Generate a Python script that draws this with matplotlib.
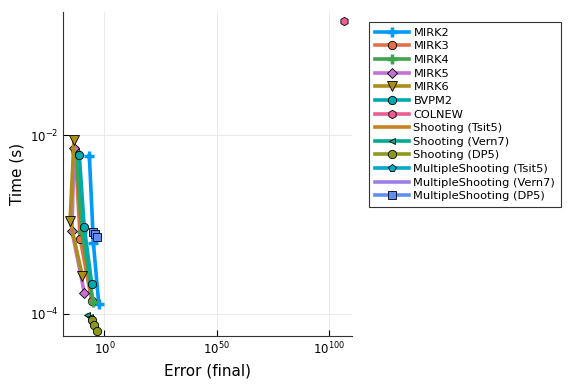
import numpy as np
import matplotlib
matplotlib.use("Agg")
import matplotlib.pyplot as plt
from matplotlib.ticker import FixedLocator, NullLocator

# ---- data (log10 of error, log10 of time) ----
names = ["MIRK2", "MIRK3", "MIRK4", "MIRK5", "MIRK6", "BVPM2", "COLNEW",
         "Shooting (Tsit5)", "Shooting (Vern7)", "Shooting (DP5)",
         "MultipleShooting (Tsit5)", "MultipleShooting (Vern7)", "MultipleShooting (DP5)"]

mirk2_err = [-6.7, -4.9, -2.5]
mirk2_time = [-2.235, -3.21, -3.895]
mirk3_err = [-13.0, -10.8, -5.6]
mirk3_time = [-2.17, -3.16, -3.86]
mirk4_err = [-12.7, -10.0, -5.0]
mirk4_time = [-2.19, -3.09, -3.87]
mirk5_err = [-13.5, -14.5, -8.9]
mirk5_time = [-2.14, -3.07, -3.77]
mirk6_err = [-13.6, -15.3, -9.8]
mirk6_time = [-2.06, -2.96, -3.58]
bvpm2_err = [-11.2, -9.0, -5.6]
bvpm2_time = [-2.22, -3.03, -3.67]
colnew_err = [107.0]
colnew_time = [-0.72]
sh_tsit5_err = [-5.5, -4.5, -3.5]
sh_tsit5_time = [-4.07, -4.13, -4.19]
sh_vern7_err = [-7.6, -6.6, -6.0]
sh_vern7_time = [-4.02, -4.04, -4.06]
sh_dp5_err = [-5.5, -4.5, -3.5]
sh_dp5_time = [-4.07, -4.13, -4.19]
ms_tsit5_err = [-5.0, -4.2, -3.4]
ms_tsit5_time = [-3.08, -3.11, -3.14]
ms_vern7_err = [-5.2, -4.4, -3.6]
ms_vern7_time = [-3.07, -3.10, -3.13]
ms_dp5_err = [-5.0, -4.2, -3.4]
ms_dp5_time = [-3.08, -3.11, -3.14]

errs = [mirk2_err, mirk3_err, mirk4_err, mirk5_err, mirk6_err, bvpm2_err, colnew_err,
        sh_tsit5_err, sh_vern7_err, sh_dp5_err, ms_tsit5_err, ms_vern7_err, ms_dp5_err]
times = [mirk2_time, mirk3_time, mirk4_time, mirk5_time, mirk6_time, bvpm2_time, colnew_time,
         sh_tsit5_time, sh_vern7_time, sh_dp5_time, ms_tsit5_time, ms_vern7_time, ms_dp5_time]

colors = ["#009AFA", "#E36F47", "#3EA44E", "#C371D2", "#AC8D18", "#00A9AD", "#ED5E93",
          "#C68225", "#00A98D", "#8E971E", "#00A8CB", "#9B7FE9", "#618DF6"]
markers = ["P", "o", "P", "D", "v", "o", "h", None, "<", "o", "p", None, "s"]
msizes = [6, 6, 6, 5, 7, 6, 6, 0, 5, 6, 6, 0, 6]

fig = plt.figure(figsize=(5.76, 3.84), dpi=100)
ax = fig.add_axes([0.11, 0.125, 0.501, 0.844])

for n, e, t, c, m, s in zip(names, errs, times, colors, markers, msizes):
    x = 10.0 ** np.array(e)
    y = 10.0 ** np.array(t)
    if m == "P":
        ax.plot(x, y, color=c, lw=2.6, marker="+", ms=7, mew=2.5, label=n)
    elif m is None:
        ax.plot(x, y, color=c, lw=2.6, label=n)
    else:
        ax.plot(x, y, color=c, lw=2.6, marker=m, ms=s, mfc=c, mec="black", mew=0.6, label=n)

ax.set_xscale("log")
ax.set_yscale("log")
ax.set_xlim(10.0 ** -18.3, 10.0 ** 110.4)
ax.set_ylim(10.0 ** -4.25, 10.0 ** -0.62)

ax.xaxis.set_major_locator(FixedLocator([1e0, 1e50, 1e100]))
ax.xaxis.set_minor_locator(NullLocator())
ax.set_xticklabels([r"$10^{0}$", r"$10^{50}$", r"$10^{100}$"])
ax.yaxis.set_major_locator(FixedLocator([1e-4, 1e-2]))
ax.yaxis.set_minor_locator(NullLocator())
ax.set_yticklabels([r"$10^{-4}$", r"$10^{-2}$"])

ax.tick_params(direction="in", length=4, width=0.8, labelsize=8.5, colors="black")
ax.grid(True, color="#e6e6e6", lw=0.6)
ax.set_axisbelow(True)
for sp in ["top", "right"]:
    ax.spines[sp].set_visible(False)
for sp in ["left", "bottom"]:
    ax.spines[sp].set_color("#333333")

ax.set_xlabel("Error (final)", fontsize=11)
ax.set_ylabel("Time (s)", fontsize=11)

leg = ax.legend(loc="upper left", bbox_to_anchor=(1.059, 0.969), borderaxespad=0.0,
                fontsize=8.2, frameon=True, fancybox=False, edgecolor="black",
                handlelength=3.0, labelspacing=0.32, borderpad=0.5, handletextpad=0.4)
leg.get_frame().set_linewidth(0.8)

fig.savefig("out.png", dpi=100)
